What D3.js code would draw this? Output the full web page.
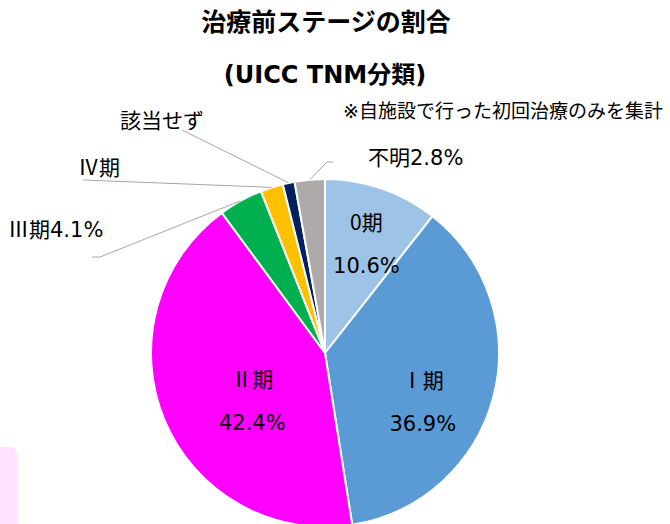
<!DOCTYPE html>
<html>
<head>
<meta charset="utf-8">
<script src="https://cdn.jsdelivr.net/npm/d3@7"></script>
<style>
  body { margin: 0; background: #fff; }
  text { font-family: "DejaVu Sans", "Noto Sans CJK JP", sans-serif; fill: #000; }
  .cjk { font-family: "Noto Sans CJK JP", sans-serif; }
</style>
</head>
<body>
<div class="canva"></div>
<script>
// data
const stages = ["0期", "Ⅰ期", "Ⅱ期", "Ⅲ期", "Ⅳ期", "該当せず", "不明"];
const shares = [10.6, 36.9, 42.4, 4.1, 2.1, 1.1, 2.8];
const sliceColors = ["#9dc3e6", "#5b9bd5", "#ff00ff", "#00b050", "#ffc000", "#002060", "#aeaaaa"];
const shownPct = ["10.6%", "36.9%", "42.4%", "4.1%", "", "", "2.8%"];

const W = 670, H = 524;
const cx = 325, cy = 353, radius = 174;

const svg = d3.select(".canva").append("svg")
    .attr("width", W)
    .attr("height", H);

// pink tab at bottom left
svg.append("rect")
    .attr("x", -12).attr("y", 447)
    .attr("width", 29).attr("height", 100)
    .attr("rx", 8)
    .attr("fill", "#ffe1ff");

// titles
svg.append("text")
    .attr("x", 326).attr("y", 31)
    .attr("text-anchor", "middle")
    .style("font-size", "25px").style("font-weight", "bold")
    .text("治療前ステージの割合");
svg.append("text")
    .attr("x", 325).attr("y", 83)
    .attr("text-anchor", "middle")
    .style("font-size", "24px").style("font-weight", "bold")
    .text("(UICC TNM分類)");

svg.append("text")
    .attr("x", 343).attr("y", 118)
    .style("font-size", "19px")
    .text("※自施設で行った初回治療のみを集計");

const data = stages.map((s, i) => ({name: s, value: shares[i], color: sliceColors[i], pct: shownPct[i]}));

const pie = d3.pie().sort(null).value(d => d.value);
const arcs = pie(data);

const arc = d3.arc().innerRadius(0).outerRadius(radius);
const edgeArc = d3.arc().innerRadius(radius).outerRadius(radius);
const labelArc = d3.arc().innerRadius(radius * 0.64).outerRadius(radius * 0.64);

const graph = svg.append("g")
    .attr("transform", `translate(${cx}, ${cy})`);

graph.selectAll("path")
    .data(arcs)
    .enter()
    .append("path")
    .attr("d", arc)
    .attr("fill", d => d.data.color)
    .attr("stroke", "#fff")
    .attr("stroke-width", 2);

// labels inside the big slices (nudged like the original)
const insideNudge = {"0期": [5, 2], "Ⅰ期": [-10, 27], "Ⅱ期": [30, 11]};
arcs.filter(d => insideNudge[d.data.name]).forEach(d => {
    const [x, y] = labelArc.centroid(d);
    const [nx, ny] = insideNudge[d.data.name];
    graph.append("text")
        .attr("class", "cjk")
        .attr("x", x + nx).attr("y", y + ny - 20)
        .attr("text-anchor", "middle")
        .style("font-size", "21px")
        .text(d.data.name);
    graph.append("text")
        .attr("x", x + nx).attr("y", y + ny + 23)
        .attr("text-anchor", "middle")
        .style("font-size", "21px")
        .text(d.data.pct);
});

// outside labels with leader lines (points relative to chart centre)
const outside = {
    "Ⅲ期": {line: [[-225, -96], [-233, -96]], text: [8, 237]},
    "Ⅳ期": {line: [[-242, -173]], text: [78, 175]},
    "該当せず": {line: [[-143, -223]], text: [120, 128]},
    "不明": {line: [[2, -191], [8, -191]], text: [368, 165]}
};

arcs.filter(d => outside[d.data.name]).forEach(d => {
    const o = outside[d.data.name];
    const pts = [edgeArc.centroid(d)].concat(o.line);
    graph.append("path")
        .attr("d", d3.line()(pts))
        .attr("fill", "none")
        .attr("stroke", "#a6a6a6")
        .attr("stroke-width", 1);
    const t = svg.append("text")
        .attr("x", o.text[0]).attr("y", o.text[1])
        .style("font-size", "21px");
    t.append("tspan").attr("class", "cjk").text(d.data.name);
    t.append("tspan").text(d.data.pct);
});
</script>
</body>
</html>
